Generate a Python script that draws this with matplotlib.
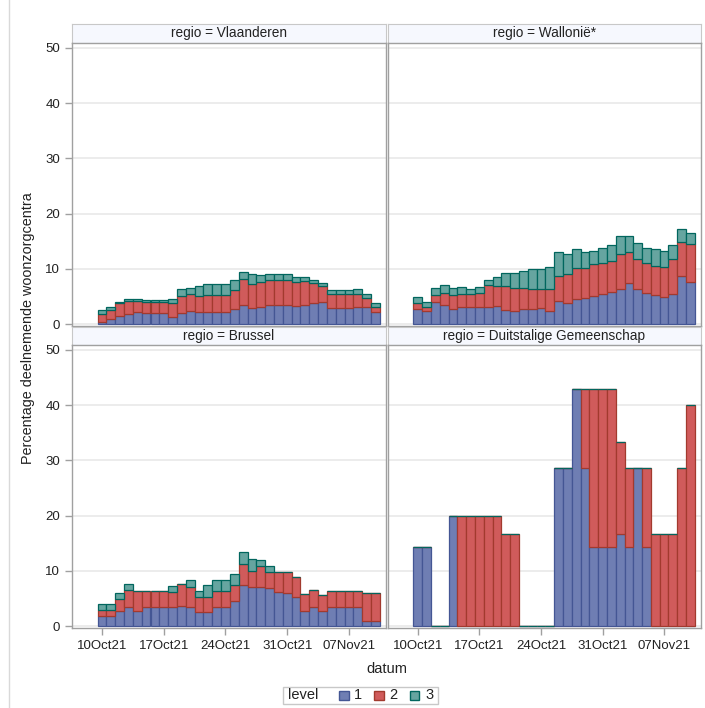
import numpy as np
import pandas as pd
import matplotlib
matplotlib.use("Agg")
import matplotlib.pyplot as plt
import matplotlib.dates as mdates
from matplotlib.patches import Rectangle
from matplotlib.lines import Line2D

plt.rcParams['font.family'] = ['Liberation Sans', 'DejaVu Sans']

# one bar per day, 10Oct21 .. 10Nov21
dates = pd.date_range('2021-10-10', '2021-11-10', freq='D')
tick_dates = pd.to_datetime(['2021-10-10', '2021-10-17', '2021-10-24', '2021-10-31', '2021-11-07'])
tick_labels = ['10Oct21', '17Oct21', '24Oct21', '31Oct21', '07Nov21']
levels = ['1', '2', '3']
regions = ['Vlaanderen', 'Walloni\u00eb*', 'Brussel', 'Duitstalige Gemeenschap']

vla_1 = [0.4, 0.85, 1.5, 1.9, 2.2, 2.0, 2.0, 2.0, 1.3, 2.0, 2.35, 2.1, 2.2, 2.2, 2.2, 2.8,
         3.4, 2.85, 3.1, 3.5, 3.5, 3.5, 3.3, 3.5, 3.75, 4.0, 2.85, 2.85, 2.85, 3.0, 3.0, 2.2]
vla_2 = [1.35, 1.65, 2.25, 2.3, 2.0, 1.9, 1.9, 1.9, 2.45, 3.0, 3.05, 2.9, 3.1, 3.1, 3.1, 3.4,
         4.8, 4.45, 4.5, 4.4, 4.4, 4.4, 4.25, 4.3, 3.65, 2.9, 2.65, 2.65, 2.65, 2.5, 1.7, 0.9]
vla_3 = [0.75, 0.5, 0.15, 0.3, 0.4, 0.4, 0.4, 0.4, 0.75, 1.3, 1.2, 1.9, 2.0, 2.0, 2.0, 1.7,
         1.3, 1.8, 1.2, 1.2, 1.2, 1.2, 1.05, 0.7, 0.6, 0.6, 0.6, 0.6, 0.6, 0.8, 0.7, 0.65]

wal_1 = [2.7, 2.35, 3.95, 3.45, 2.7, 3.0, 3.0, 3.0, 3.15, 3.3, 2.55, 2.4, 2.7, 2.7, 2.95, 2.4,
         4.15, 3.8, 4.6, 4.8, 5.1, 5.4, 5.8, 6.35, 7.4, 6.35, 5.55, 5.2, 4.95, 5.45, 8.7, 7.6]
wal_2 = [1.05, 0.65, 1.25, 2.2, 2.5, 2.35, 2.35, 2.7, 3.85, 3.5, 4.35, 4.2, 3.9, 3.6, 3.35, 3.95,
         4.6, 5.25, 5.6, 5.4, 5.8, 5.7, 5.55, 6.25, 5.65, 5.35, 5.45, 5.25, 5.35, 6.35, 6.2, 6.85]
wal_3 = [1.1, 1.05, 1.4, 1.35, 1.3, 1.3, 1.0, 0.95, 1.05, 1.8, 2.35, 2.6, 3.0, 3.6, 3.6, 4.05,
         4.25, 3.55, 3.3, 2.8, 2.4, 2.7, 2.9, 3.4, 2.95, 2.9, 2.85, 3.05, 2.9, 2.45, 2.3, 2.05]

bru_1 = [1.85, 1.85, 2.8, 3.5, 2.7, 3.4, 3.4, 3.4, 3.4, 3.6, 3.4, 2.6, 2.6, 3.45, 3.45, 4.5,
         7.45, 7.15, 7.0, 6.95, 6.2, 5.95, 5.2, 2.8, 3.5, 2.8, 3.45, 3.45, 3.45, 3.45, 0.9, 0.9]
bru_2 = [1.0, 1.0, 2.05, 3.0, 3.7, 3.0, 3.0, 3.0, 2.75, 4.0, 3.75, 2.7, 2.7, 2.9, 2.9, 2.85,
         3.85, 2.85, 3.8, 2.85, 3.55, 3.8, 3.65, 2.95, 3.05, 2.8, 2.95, 2.95, 2.95, 2.9, 5.05, 5.05]
bru_3 = [1.15, 1.15, 1.15, 1.1, 0, 0, 0, 0, 1.05, 0, 1.1, 1.1, 2.05, 1.95, 1.95, 2.05,
         2.1, 2.1, 1.1, 1.0, 0, 0, 0, 0, 0, 0, 0, 0, 0, 0, 0, 0]

dg_1 = [14.29, 14.29, 0, 0, 20, 0, 0, 0, 0, 0, 0, 0, 0, 0, 0, 0,
        28.57, 28.57, 42.86, 28.57, 14.29, 14.29, 14.29, 16.67, 14.29, 28.57, 14.29, 0, 0, 0, 0, 0]
dg_2 = [0, 0, 0, 0, 0, 20, 20, 20, 20, 20, 16.67, 16.67, 0, 0, 0, 0,
        0, 0, 0, 14.29, 28.57, 28.57, 28.57, 16.67, 14.29, 0, 14.29, 16.67, 16.67, 16.67, 28.57, 40]
dg_3 = [0] * 32

panel_data = [(vla_1, vla_2, vla_3), (wal_1, wal_2, wal_3),
              (bru_1, bru_2, bru_3), (dg_1, dg_2, dg_3)]

fills = ['#6F7EB3', '#D05B5B', '#66A5A0']
edges = ['#445694', '#A23A2E', '#01665E']
frame = '#A0A0A0'
txt = '#222222'

W, H = 705, 708
fig = plt.figure(figsize=(W / 100, H / 100), dpi=100)


def rect(x0, x1, y0, y1):
    return [x0 / W, 1 - y1 / H, (x1 - x0) / W, (y1 - y0) / H]


cols = [(72, 386), (388, 701)]
rows = [((23.5, 43), (43, 326)), ((327, 345), (345, 628))]

x = mdates.date2num(dates)
x0 = x[0]

for i, (region, vals) in enumerate(zip(regions, panel_data)):
    r, c = divmod(i, 2)
    (hy0, hy1), (py0, py1) = rows[r]
    cx0, cx1 = cols[c]

    # header strip
    hax = fig.add_axes(rect(cx0, cx1, hy0, hy1))
    hax.set_facecolor('#F6F8FE')
    hax.set_xticks([])
    hax.set_yticks([])
    for s in hax.spines.values():
        s.set_color('#C8C8C8')
    hax.text(0.5, 0.5, f'regio = {region}', ha='center', va='center',
             fontsize=9.8, color=txt, transform=hax.transAxes)

    ax = fig.add_axes(rect(cx0, cx1, py0, py1))
    bottom = np.zeros(len(x))
    for k in range(3):
        v = np.array(vals[k], dtype=float)
        ax.bar(x, v, bottom=bottom, width=1.0, color=fills[k],
               edgecolor=edges[k], linewidth=0.9, zorder=2)
        bottom = bottom + v

    ax.set_xlim(x0 - 3.4, x0 + 32.2)
    ax.set_ylim(-0.36, 50.9)
    ax.set_yticks([0, 10, 20, 30, 40, 50])
    ax.yaxis.grid(True, color='#EBEBEB', linewidth=1.3)
    ax.set_axisbelow(True)
    for s in ax.spines.values():
        s.set_color(frame)
        s.set_linewidth(1.0)
    ax.set_xticks(mdates.date2num(tick_dates))
    ax.set_xticklabels(tick_labels)
    ax.tick_params(colors=frame, labelcolor=txt, labelsize=9.5, length=5, width=1)
    if c == 1:
        ax.tick_params(axis='y', left=False, labelleft=False)
    if r == 0:
        ax.tick_params(axis='x', bottom=False, labelbottom=False)

fig.text(28 / W, 1 - 328 / H, 'Percentage deelnemende woonzorgcentra', rotation=90,
         ha='center', va='center', fontsize=10.4, color=txt)
fig.text(387 / W, 1 - 669 / H, 'datum', ha='center', va='center', fontsize=10.5, color=txt)

# legend
fig.patches.append(Rectangle((283 / W, 1 - 704 / H), 155 / W, 17.5 / H,
                             transform=fig.transFigure, facecolor='white',
                             edgecolor='#C8C8C8', linewidth=1))
fig.text(288 / W, 1 - 695 / H, 'level', ha='left', va='center', fontsize=10.5, color=txt)
for k, (lab, sx) in enumerate(zip(levels, [339, 374, 410])):
    fig.patches.append(Rectangle((sx / W, 1 - 699.5 / H), 9.5 / W, 9 / H,
                                 transform=fig.transFigure, facecolor=fills[k],
                                 edgecolor=edges[k], linewidth=1))
    fig.text((sx + 15) / W, 1 - 695 / H, lab, ha='left', va='center',
             fontsize=10.5, color=txt)

# outer border on the left
fig.lines.append(Line2D([9 / W, 9 / W], [0, 1], transform=fig.transFigure,
                        color='#D9D9D9', linewidth=1))

fig.savefig('out.png', dpi=100)
